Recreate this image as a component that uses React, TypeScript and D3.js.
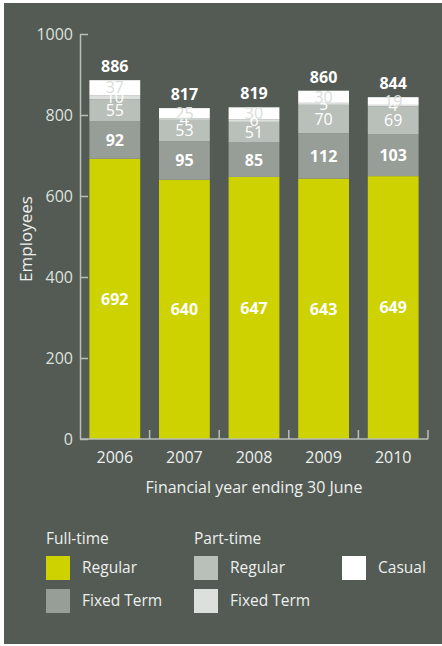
import React, { useEffect, useRef } from 'react';
import * as d3 from 'd3';

// chart data
const years = ['2006', '2007', '2008', '2009', '2010'];
const ftRegular = [692, 640, 647, 643, 649];
const ftFixed = [92, 95, 85, 112, 103];
const ptRegular = [55, 53, 51, 70, 69];
const ptFixed = [10, 4, 6, 5, 4];
const casual = [37, 25, 30, 30, 19];
const totals = [886, 817, 819, 860, 844];
const yTicks = [0, 200, 400, 600, 800, 1000];

const seriesNames = ['Full-time Regular', 'Full-time Fixed Term', 'Part-time Regular', 'Part-time Fixed Term', 'Casual'];
const seriesColors = ['#cdd200', '#979d97', '#b9bfb9', '#dbe0dc', '#ffffff'];
const labelColors = ['#ffffff', '#ffffff', '#ffffff', '#ffffff', '#d9ddd9'];

const W = 442;
const H = 646;
const BG = '#535b54';
const AXIS = '#b9bfb9';
const FONT = '"Open Sans", "Noto Sans", sans-serif';

const App: React.FC = () => {
    const svgRef = useRef<SVGSVGElement>(null);

    useEffect(() => {
        const svg = d3.select(svgRef.current);
        svg.selectAll('*').remove();

        svg.append('rect').attr('x', 4).attr('y', 3).attr('width', W - 4).attr('height', 641).attr('fill', BG);

        const left = 80, right = 428, top = 34, bottom = 439;

        const x = d3.scaleBand().domain(years).range([left, right]).paddingInner(0.27).paddingOuter(0.135);
        const y = d3.scaleLinear().domain([0, 1000]).range([bottom, top]);

        const rows = years.map((yr, i) => ({
            year: yr,
            values: [ftRegular[i], ftFixed[i], ptRegular[i], ptFixed[i], casual[i]],
            total: totals[i],
        }));

        const g = svg.append('g');

        // stacked bars
        rows.forEach(r => {
            let acc = 0;
            r.values.forEach((v, k) => {
                g.append('rect')
                    .attr('x', x(r.year)!)
                    .attr('width', x.bandwidth())
                    .attr('y', y(acc + v))
                    .attr('height', y(acc) - y(acc + v))
                    .attr('fill', seriesColors[k]);
                acc += v;
            });
        });

        // segment labels (small ones overlap, as in the original)
        rows.forEach(r => {
            let acc = 0;
            r.values.forEach((v, k) => {
                g.append('text')
                    .attr('x', x(r.year)! + x.bandwidth() / 2)
                    .attr('y', y(acc + v / 2))
                    .attr('dy', '0.36em')
                    .attr('text-anchor', 'middle')
                    .attr('font-family', FONT)
                    .attr('font-size', 16)
                    .attr('font-weight', k < 2 ? 'bold' : 'normal')
                    .attr('fill', labelColors[k])
                    .text(v);
                acc += v;
            });
            g.append('text')
                .attr('x', x(r.year)! + x.bandwidth() / 2)
                .attr('y', y(r.total) - 8)
                .attr('text-anchor', 'middle')
                .attr('font-family', FONT)
                .attr('font-size', 16)
                .attr('font-weight', 'bold')
                .attr('fill', '#ffffff')
                .text(r.total);
        });

        // y axis, ticks point inward
        const yAxis = svg.append('g')
            .attr('transform', `translate(${left},0)`)
            .call(d3.axisRight(y).tickValues(yTicks).tickSize(8).tickSizeOuter(0).tickFormat(d3.format('d')));
        yAxis.select('.domain').attr('stroke', AXIS).attr('stroke-width', 1.5);
        yAxis.selectAll('.tick line').attr('stroke', AXIS).attr('stroke-width', 1.5);
        yAxis.selectAll('.tick text')
            .attr('x', -7)
            .attr('text-anchor', 'end')
            .attr('font-family', FONT)
            .attr('font-size', 16)
            .attr('fill', '#dde1dd');

        // x axis baseline with inward ticks at band edges
        svg.append('line').attr('x1', left).attr('x2', right).attr('y1', bottom).attr('y2', bottom)
            .attr('stroke', AXIS).attr('stroke-width', 1.5);
        years.forEach(yr => {
            const edge = x(yr)! + x.bandwidth() + (x.step() - x.bandwidth()) / 2;
            svg.append('line').attr('x1', edge).attr('x2', edge).attr('y1', bottom).attr('y2', bottom - 9)
                .attr('stroke', AXIS).attr('stroke-width', 1.5);
            svg.append('text')
                .attr('x', x(yr)! + x.bandwidth() / 2)
                .attr('y', 463)
                .attr('text-anchor', 'middle')
                .attr('font-family', FONT)
                .attr('font-size', 16)
                .attr('fill', '#eef0ee')
                .text(yr);
        });

        svg.append('text')
            .attr('x', (left + right) / 2)
            .attr('y', 493)
            .attr('text-anchor', 'middle')
            .attr('font-family', FONT)
            .attr('font-size', 16)
            .attr('fill', '#eef0ee')
            .text('Financial year ending 30 June');

        svg.append('text')
            .attr('transform', `translate(32,239) rotate(-90)`)
            .attr('text-anchor', 'middle')
            .attr('font-family', FONT)
            .attr('font-size', 17)
            .attr('fill', '#eef0ee')
            .text('Employees');

        // legend
        const legend = svg.append('g').attr('font-family', FONT).attr('font-size', 15.5).attr('fill', '#eef0ee');
        legend.append('text').attr('x', 46).attr('y', 544).text('Full-time');
        legend.append('text').attr('x', 194).attr('y', 544).text('Part-time');
        const items = [
            { i: 0, x: 46, y: 556, label: 'Regular' },
            { i: 1, x: 46, y: 589, label: 'Fixed Term' },
            { i: 2, x: 194, y: 556, label: 'Regular' },
            { i: 3, x: 194, y: 589, label: 'Fixed Term' },
            { i: 4, x: 342, y: 556, label: 'Casual' },
        ];
        items.forEach(it => {
            legend.append('rect').attr('x', it.x).attr('y', it.y).attr('width', 24).attr('height', 24)
                .attr('fill', seriesColors[it.i]).append('title').text(seriesNames[it.i]);
            legend.append('text').attr('x', it.x + 36).attr('y', it.y + 17).text(it.label);
        });
    }, []);

    return (
        <svg ref={svgRef} width={W} height={H} style={{ position: 'absolute', left: 0, top: 0, background: 'white' }}></svg>
    );
};

export default App;
